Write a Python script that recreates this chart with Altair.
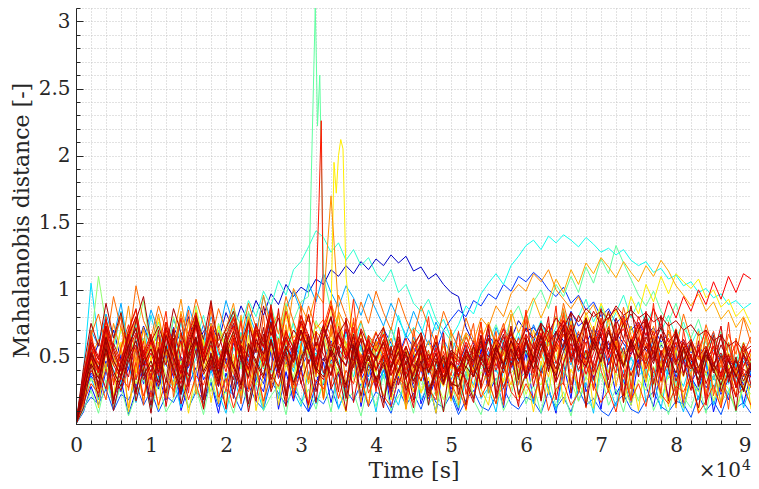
import altair as alt
import pandas as pd

# time grid [s]
T = list(range(0, 91000, 1000))

# Mahalanobis distance series, in hundredths, one value per T step
A00 = [0,28,45,60,52,70,48,62,55,73,58,
       66,50,72,61,80,57,69,75,62,83,
       70,88,76,92,81,97,89,104,95,102,
       98,108,104,115,110,118,112,121,115,123,
       118,126,120,125,114,117,108,112,104,98,
       95,72,60,52,66,58,71,63,77,69,
       72,64,58,69,62,55,67,60,71,64,
       56,68,60,52,63,55,48,59,51,45,
       54,47,40,50,43,37,48,41,35,42]
A01 = [0,20,36,28,47,33,24,42,55,30,40,
       26,50,35,22,45,57,33,43,28,49,
       38,24,52,40,30,55,34,46,27,42,
       53,36,29,48,39,25,51,33,44,28,
       40,22,35,47,27,41,19,34,45,26,
       37,50,43,58,47,63,52,68,57,72,
       61,76,65,80,69,84,73,78,66,71,
       59,64,52,57,45,50,38,43,56,35,
       48,31,41,27,36,22,33,44,29,40]
A02 = [0,22,38,30,45,36,52,41,33,48,39,
       55,44,36,50,42,58,47,38,53,45,
       60,49,41,56,47,63,52,44,59,50,
       66,55,47,62,53,69,58,49,64,55,
       71,60,51,66,57,48,62,54,70,78,
       85,80,92,88,97,93,104,99,110,106,
       113,108,100,95,102,90,96,85,91,80,
       86,75,81,70,76,66,72,61,67,57,
       63,53,59,49,55,46,52,43,49,40]
A03 = [0,12,20,15,26,10,22,18,30,14,25,
       9,21,16,28,12,24,19,31,13,26,
       22,10,29,17,11,32,23,14,27,18,
       9,20,15,27,12,25,17,30,13,24,
       19,8,26,14,23,11,28,16,12,22,
       7,18,25,13,10,21,27,15,11,20,
       17,8,24,12,20,9,26,14,19,10,
       6,16,22,11,8,18,24,13,9,17,
       15,5,21,10,17,7,23,12,16,8]
A04 = [0,30,52,41,66,48,35,58,71,44,60,
       37,53,69,46,31,57,74,50,39,62,
       45,68,55,33,59,77,49,64,42,70,
       56,38,61,80,52,43,67,58,35,63,
       48,72,54,40,65,51,37,59,46,33,
       44,58,41,66,53,39,62,70,47,57,
       74,61,50,68,55,79,63,48,71,58,
       45,66,52,73,60,43,64,49,37,58,
       46,62,40,55,68,47,59,36,51,44]
A05 = [0,35,70,58,82,64,90,55,76,61,85,
       69,52,78,63,88,71,57,80,66,92,
       74,60,83,68,95,77,62,86,99,84,
       105,91,112,98,87,103,94,81,97,85,
       73,90,78,66,84,71,59,76,63,52,
       68,56,45,62,50,72,58,47,65,53,
       41,60,48,69,55,44,63,51,38,57,
       46,64,52,40,59,47,35,54,43,31,
       50,39,56,44,33,52,41,30,47,37]
A06 = [0,40,105,62,78,55,84,60,72,50,81,
       58,67,49,76,54,63,45,71,52,60,
       43,68,50,57,41,65,48,55,39,62,
       46,53,37,60,44,51,35,58,42,49,
       34,56,40,47,32,54,38,45,30,52,
       36,43,29,50,34,41,27,48,33,39,
       36,56,41,47,34,54,39,45,32,52,
       38,43,31,50,36,41,29,48,34,39,
       28,46,32,37,26,44,30,35,25,42]
A07 = [0,25,44,36,58,40,29,51,63,38,47,
       33,55,42,61,35,49,66,40,53,31,
       57,45,70,38,52,64,43,59,75,48,
       62,50,71,56,44,67,53,76,60,49,
       68,57,81,63,72,66,85,70,78,64,
       74,88,82,97,105,112,104,118,125,133,
       137,130,140,135,141,137,132,139,134,128,
       131,126,130,122,118,121,113,116,108,111,
       103,106,98,101,94,97,89,92,86,90]
A08 = [0,30,55,44,68,52,39,61,74,47,58,
       42,66,53,78,48,62,81,57,70,64,
       86,73,92,80,99,88,107,96,115,121,
       132,144,139,128,135,122,130,118,124,112,
       106,115,98,104,90,84,93,78,70,62,
       55,66,50,61,47,58,44,55,69,52,
       63,77,60,72,85,68,80,93,76,88,
       71,83,96,79,91,74,86,69,81,64,
       76,59,71,54,66,49,61,45,57,42]
A09 = [0,26,48,37,60,45,71,52,40,63,49,
       76,58,44,67,53,81,62,47,70,56,
       84,65,50,73,59,88,68,54,77,91,
       95,285,110,85,72,60,68,55,47,61,
       50,42,57,46,38,53,44,36,49,40,
       33,47,58,45,62,74,60,79,88,72,
       91,100,86,104,95,110,98,117,105,123,
       112,133,120,108,96,88,99,84,76,90,
       71,64,78,60,55,69,52,47,61,44]
A10 = [0,20,62,110,74,58,83,49,67,92,55,
       71,44,80,63,52,88,60,46,75,57,
       69,41,84,58,47,73,62,90,55,68,
       49,77,64,42,70,53,61,38,66,51,
       45,72,57,36,63,48,55,34,60,43,
       50,31,58,41,47,29,55,38,44,62,
       52,36,70,48,41,65,53,33,59,46,
       39,64,51,30,57,44,36,61,48,27,
       55,42,33,58,45,25,52,39,31,48]
A11 = [0,18,34,27,45,22,38,51,30,43,25,
       56,36,28,47,33,59,40,24,50,31,
       44,62,37,29,53,41,26,48,35,57,
       30,45,23,51,38,60,33,27,46,39,
       21,44,52,29,36,24,41,33,18,37,
       28,45,20,39,31,15,34,26,42,22,
       37,29,46,24,40,32,17,35,27,48,
       23,38,30,14,33,25,43,19,36,28,
       12,31,24,39,17,34,26,11,29,22]
A12 = [0,24,46,35,60,43,72,51,38,64,47,
       79,55,41,68,50,85,59,44,73,54,
       66,48,77,58,42,70,53,81,60,67,
       52,74,70,80,200,110,60,52,45,58,
       41,50,36,55,43,32,49,38,28,45,
       35,52,40,58,46,63,51,70,57,64,
       49,72,58,80,65,74,60,83,69,90,
       76,85,72,95,82,104,91,110,97,112,
       106,101,108,94,100,87,93,80,86,74]
A13 = [0,28,50,39,63,31,55,70,42,58,36,
       65,47,29,61,52,74,40,57,33,68,
       45,60,38,71,49,27,64,53,42,76,
       58,35,67,48,81,56,44,69,37,62,
       50,30,59,45,24,53,39,66,32,48,
       57,41,27,51,36,64,46,29,55,40,
       70,52,35,61,47,77,58,43,68,50,
       38,63,45,73,54,31,60,42,69,48,
       35,57,40,66,46,28,53,37,61,43]
A14 = [0,31,57,44,68,50,36,61,78,47,59,
       41,70,53,84,45,63,49,75,58,42,
       66,52,80,60,47,72,55,88,64,73,
       58,69,62,90,74,60,52,67,48,61,
       44,57,39,53,35,49,62,45,58,41,
       54,67,50,63,76,59,72,85,68,81,
       94,79,92,108,98,115,104,120,112,124,
       117,109,121,113,106,118,110,122,114,103,
       96,88,97,84,91,78,85,72,80,68]
A15 = [0,26,49,63,41,75,54,88,46,70,59,
       82,51,66,93,57,74,48,85,62,71,
       90,55,78,64,96,70,83,59,101,88,
       76,98,90,170,84,72,63,77,56,69,
       50,64,44,58,39,53,47,35,51,42,
       56,68,61,79,72,88,80,97,104,99,
       112,106,115,100,93,86,95,81,89,74,
       82,68,77,63,71,58,66,52,61,47,
       55,43,50,38,46,34,41,30,37,27]
A16 = [0,38,66,82,58,95,71,60,103,77,64,
       88,70,57,82,66,93,74,61,86,69,
       79,63,90,72,58,84,67,95,76,62,
       88,71,78,65,96,80,68,91,75,99,
       83,70,94,78,65,88,73,60,84,69,
       56,79,63,50,74,59,46,68,54,83,
       62,49,75,58,90,67,53,80,64,48,
       73,57,87,66,51,78,61,45,70,55,
       82,63,48,74,57,42,67,52,79,60]
A17 = [0,34,60,48,77,55,42,69,85,52,65,
       47,74,59,38,67,81,53,70,44,62,
       78,56,41,73,63,86,50,68,57,80,
       64,47,72,92,60,53,76,45,66,58,
       71,49,63,40,57,68,46,61,38,54,
       47,65,52,70,44,59,75,50,64,41,
       57,72,48,66,81,55,69,45,62,78,
       53,68,43,60,74,51,65,40,57,71,
       48,63,39,55,69,45,60,36,52,65]
A18 = [0,16,30,23,41,19,35,27,46,21,38,
       14,32,25,44,18,36,29,48,20,34,
       12,31,24,42,17,37,28,50,22,39,
       15,33,26,45,19,40,30,52,23,36,
       21,13,34,29,16,43,26,18,47,31,
       27,11,40,20,32,15,45,24,17,30,
       19,38,10,26,31,14,23,44,29,16,
       25,9,37,18,30,13,42,22,15,28,
       24,36,8,17,29,12,41,21,27,14]
A19 = [0,29,52,40,64,47,35,58,72,44,56,
       38,67,50,79,43,61,47,73,55,39,
       63,49,76,57,44,69,52,84,61,70,
       55,95,70,58,66,50,62,45,57,41,
       53,37,49,64,46,59,42,55,38,51,
       35,48,62,44,57,40,53,68,49,63,
       46,59,73,54,67,50,62,77,58,71,
       53,66,80,61,74,56,69,52,64,47,
       60,43,55,70,51,64,47,60,43,56]
A20 = [0,33,58,45,71,52,39,64,80,48,61,
       43,70,55,37,62,76,50,67,41,59,
       73,53,40,68,57,82,46,63,51,75,
       60,44,69,88,56,48,72,42,62,54,
       67,45,58,37,53,64,42,57,35,50,
       44,61,49,66,41,56,71,47,60,38,
       53,68,45,62,77,51,65,42,58,74,
       49,64,71,58,80,66,86,73,92,79,
       95,84,100,89,106,93,110,98,112,108]
A21 = [0,27,49,38,61,44,33,55,68,41,53,
       36,64,47,30,58,72,45,59,37,52,
       66,48,34,61,50,74,42,57,46,69,
       54,39,63,79,51,43,65,38,56,48,
       60,41,53,33,48,58,38,52,31,45,
       39,56,44,60,36,51,65,42,55,34,
       48,62,40,57,70,46,60,37,53,67,
       44,58,35,52,64,41,55,32,48,61,
       38,52,29,46,58,35,49,27,43,55]
A22 = [0,37,63,50,78,57,45,70,86,53,67,
       48,76,60,41,68,83,55,72,46,65,
       80,58,44,74,61,89,50,69,56,81,
       66,48,73,60,54,71,47,64,52,68,
       55,40,62,49,36,57,44,66,39,53,
       46,59,35,52,64,43,57,70,48,62,
       38,55,68,45,60,74,51,66,42,58,
       72,49,63,54,76,61,47,67,55,44,
       63,50,38,57,45,33,51,40,60,47]
A23 = [0,31,54,42,26,60,47,35,66,51,39,
       57,44,71,49,36,62,53,40,68,46,
       33,59,50,75,43,63,38,56,48,70,
       45,61,52,37,66,55,42,71,58,47,
       63,50,38,57,44,32,52,40,29,47,
       36,54,42,31,49,58,45,62,51,67,
       56,72,61,68,77,65,81,70,84,74,
       79,86,75,82,71,78,66,73,61,68,
       56,63,50,58,45,53,40,48,36,44]
A24 = [0,22,40,31,53,36,25,47,59,33,44,
       28,56,39,23,50,63,37,48,30,55,
       42,26,58,45,34,61,38,52,29,47,
       60,40,33,54,43,27,57,36,49,31,
       44,24,39,52,30,45,21,37,49,28,
       41,33,19,46,35,50,27,42,57,34,
       48,38,53,31,46,60,40,55,33,49,
       62,43,57,36,51,45,59,38,53,32,
       47,41,55,30,44,38,52,27,41,35]
A25 = [0,35,61,48,73,55,40,66,80,50,63,
       45,72,57,38,64,78,52,69,43,61,
       75,54,41,70,58,83,47,65,53,77,
       62,46,71,56,68,49,60,44,55,40,
       51,36,47,58,42,53,38,49,35,45,
       40,52,46,58,50,63,55,67,59,71,
       64,75,68,79,72,83,76,86,80,84,
       78,88,81,85,79,83,76,80,73,77,
       70,74,66,70,62,66,58,62,54,58]
A26 = [0,42,75,58,90,64,83,52,77,95,61,
       73,56,86,68,49,80,63,92,57,71,
       84,60,76,53,88,66,79,55,70,62,
       81,58,74,50,67,77,54,69,47,63,
       72,51,65,44,59,68,48,61,41,55,
       50,42,58,47,63,52,38,56,45,61,
       49,66,54,41,59,71,55,48,64,52,
       68,57,44,62,50,65,53,40,58,46,
       61,49,37,55,43,59,47,35,52,40]
A27 = [0,30,53,41,65,47,36,59,71,44,56,
       39,66,50,33,60,74,46,62,38,55,
       69,49,35,63,52,76,43,58,46,70,
       55,40,64,80,51,44,67,39,57,49,
       61,42,54,34,49,59,39,53,32,46,
       41,55,47,62,38,53,67,44,58,36,
       50,65,43,60,73,48,63,79,55,69,
       84,62,75,57,70,81,59,72,52,66,
       47,60,42,55,38,51,35,47,32,44]
A28 = [0,25,45,34,56,39,28,50,62,36,47,
       31,58,41,26,53,65,39,51,32,57,
       44,29,60,47,36,63,40,54,31,49,
       62,42,35,56,45,29,59,38,51,33,
       46,26,41,54,32,47,23,39,51,30,
       28,43,35,50,39,57,44,62,48,55,
       41,60,47,36,54,67,50,43,61,46,
       70,55,42,63,49,58,45,66,51,38,
       57,44,33,52,40,29,47,36,25,42]
B01 = [0,15,48,12,55,20,61,9,42,18,50,
       11,58,24,44,8,39,63,16,47,13,
       52,21,66,10,37,57,14,45,27,60,
       12,49,19,71,25,9,54,33,15,46,
       62,18,40,11,56,23,35,8,50,17,
       43,10,58,26,14,51,31,64,20,38,
       9,47,22,60,15,41,28,55,12,49,
       24,63,16,39,10,53,29,45,13,57,
       19,36,9,51,25,14,44,20,58,11]
B02 = [0,10,25,8,33,14,28,6,22,35,11,
       30,9,19,38,12,27,7,34,16,24,
       8,31,13,40,10,21,29,7,36,15,
       26,11,33,9,42,17,24,6,30,13,
       37,10,21,28,8,35,14,25,9,32,
       12,39,18,7,27,34,10,22,41,15,
       29,8,36,13,24,6,31,19,11,38,
       14,26,9,33,17,40,10,23,7,35,
       20,12,30,8,37,16,25,9,28,13]
B03 = [0,14,35,18,42,11,30,47,16,38,9,
       44,21,33,12,51,26,15,40,23,8,
       36,17,48,28,10,43,19,55,24,13,
       39,15,31,46,11,27,50,20,34,9,
       42,25,14,37,53,18,29,10,45,22,
       12,33,48,19,27,9,41,56,23,36,
       15,44,26,10,38,52,17,31,8,46,
       29,13,40,21,57,16,34,11,43,24,
       9,37,18,49,14,32,22,45,12,30]
B04 = [0,22,70,35,18,62,80,25,57,14,66,
       41,76,20,53,85,30,12,68,46,24,
       72,15,59,38,81,27,64,17,50,88,
       33,61,19,74,44,22,79,36,13,58,
       67,28,48,16,71,39,55,21,63,31,
       18,54,75,26,42,69,14,60,35,78,
       47,20,65,37,83,29,56,12,73,40,
       24,61,43,17,70,34,58,23,76,45,
       16,52,30,68,21,49,11,64,38,27]
B05 = [0,18,59,26,73,15,48,67,22,55,33,
       70,13,45,62,28,81,19,52,36,11,
       64,29,77,17,50,40,86,21,58,31,
       14,69,38,55,24,79,16,47,63,27,
       51,20,72,34,12,60,43,25,68,19,
       56,30,16,49,74,22,61,37,13,66,
       28,53,80,18,45,65,26,71,39,57,
       33,76,21,59,42,84,30,54,17,69,
       46,25,62,14,51,73,35,20,58,41]
B06 = [0,12,44,20,58,10,36,52,17,41,8,
       49,23,64,15,33,55,11,46,28,60,
       19,51,9,38,67,24,43,13,57,30,
       48,16,62,26,39,10,54,21,45,34,
       12,58,29,47,18,66,25,40,9,53,
       36,14,59,27,71,19,44,56,22,38,
       61,17,49,32,74,23,58,13,46,68,
       27,52,16,63,35,78,20,55,41,15,
       57,31,12,48,66,24,39,10,53,29]
B07 = [0,25,66,38,80,29,57,74,33,62,20,
       55,84,36,68,23,75,47,90,31,59,
       41,77,26,64,52,87,34,70,19,58,
       82,37,61,28,73,50,93,35,66,24,
       57,39,71,18,62,45,80,27,54,36,
       69,22,48,76,31,58,17,64,42,85,
       34,67,50,88,29,72,44,61,25,79,
       53,38,81,26,65,47,90,32,59,21,
       70,42,57,19,63,35,76,28,52,44]
B08 = [0,20,52,28,63,17,45,59,24,49,14,
       56,31,70,22,47,64,18,53,37,68,
       26,58,15,44,72,33,50,21,61,39,
       67,24,49,36,58,19,45,63,28,51,
       16,43,60,25,38,55,14,47,30,62,
       22,51,35,66,28,59,41,73,33,64,
       48,75,39,69,57,83,46,77,60,86,
       52,79,63,88,55,74,49,81,42,70,
       36,61,28,55,40,67,31,50,24,46]
B09 = [0,17,50,24,68,31,57,12,46,72,28,
       61,19,53,35,78,22,44,66,15,58,
       37,81,26,49,13,63,40,74,21,55,
       30,69,18,52,84,27,47,16,60,39,
       73,25,56,11,42,65,20,48,34,70,
       14,51,38,76,23,59,45,82,29,62,
       41,18,67,33,86,50,24,71,37,57,
       79,28,54,19,64,43,73,31,48,12,
       58,36,69,22,45,15,61,39,26,53]
B10 = [0,9,28,14,40,19,33,7,25,45,12,
       36,18,50,10,29,42,15,31,8,38,
       21,47,13,34,24,55,11,39,17,43,
       9,30,46,16,37,22,58,13,41,27,
       48,12,35,20,52,15,32,8,44,25,
       10,39,18,57,23,34,12,47,29,53,
       16,42,27,8,45,19,60,24,36,11,
       50,22,33,14,48,28,13,41,20,55,
       12,35,25,46,9,31,18,43,15,38]

# extra samples in the spike region (time [s], value in hundredths)
EXTRA_T = {"A09": [31900, 32200, 32500],
           "A12": [34400, 34700, 35300, 35600],
           "A19": [32400, 32700]}
EXTRA_V = {"A09": [310, 222, 260],
           "A12": [195, 172, 212, 205],
           "A19": [165, 226]}

# drawing order (blue first, dark red last)
SERIES = [("A00", A00), ("B10", B10), ("A01", A01), ("A02", A02), ("A03", A03),
          ("A04", A04), ("A05", A05), ("B03", B03), ("A06", A06), ("A07", A07),
          ("A08", A08), ("A09", A09), ("B02", B02), ("A10", A10), ("A11", A11),
          ("A12", A12), ("B01", B01), ("A13", A13), ("A14", A14), ("B09", B09),
          ("A15", A15), ("A16", A16), ("B04", B04), ("A17", A17), ("A18", A18),
          ("B07", B07), ("A19", A19), ("A20", A20), ("A21", A21), ("A22", A22),
          ("B05", B05), ("A23", A23), ("A24", A24), ("A25", A25), ("B06", B06),
          ("A26", A26), ("B08", B08), ("A27", A27), ("A28", A28)]

COLORS = ["#0000c8", "#0008ff", "#0018ff", "#0030ff", "#0050ff",
          "#0080ff", "#00a8ff", "#00c8ff", "#00e0ff", "#10fff0",
          "#30ffd0", "#60ffa0", "#70ff90", "#90ff70", "#c0ff40",
          "#ffee00", "#ffd800", "#ffc400", "#ffa800", "#ff9800",
          "#ff8c00", "#ff6a00", "#ff5000", "#ff4000", "#ff3000",
          "#ff2800", "#ff1800", "#ff0000", "#f00000", "#e40800",
          "#d80000", "#d00000", "#c80000", "#bc0000", "#b40000",
          "#aa0000", "#a00000", "#960000", "#880000"]

X_MINOR = list(range(0, 92000, 2000))
X_MAJOR = list(range(0, 100000, 10000))
Y_MINOR = [round(0.1 * i, 1) for i in range(0, 32)]
Y_MAJOR = [0.5, 1, 1.5, 2, 2.5, 3]

rows = []
for name, vals in SERIES:
    assert len(vals) == len(T), (name, len(vals))
    for t, v in zip(T, vals):
        rows.append({"s": name, "t": t, "v": v / 100})
    for t, v in zip(EXTRA_T.get(name, []), EXTRA_V.get(name, [])):
        rows.append({"s": name, "t": t, "v": v / 100})
df = pd.DataFrame(rows)

FONT = "DejaVu Serif"
INK = "#262626"
GRID = "#c4c4c4"
W, H = 675, 416

xs = alt.Scale(domain=[0, 90000], nice=False, zero=False)
ys = alt.Scale(domain=[0, 3.1], nice=False, zero=False)
names = [n for n, _ in SERIES]

lines = alt.Chart(df).mark_line(strokeWidth=1, clip=True).encode(
    x=alt.X("t:Q", scale=xs, axis=alt.Axis(orient="bottom", values=X_MINOR, grid=True,
            gridColor=GRID, gridDash=[1, 2], gridWidth=1, ticks=False, labels=False,
            domain=False, title=None)),
    y=alt.Y("v:Q", scale=ys, axis=alt.Axis(orient="left", values=Y_MINOR, grid=True,
            gridColor=GRID, gridDash=[1, 2], gridWidth=1, ticks=False, labels=False,
            domain=False, title=None)),
    color=alt.Color("s:N", scale=alt.Scale(domain=names, range=COLORS), legend=None),
    detail="s:N",
)

minor = alt.Chart(df).mark_point(opacity=0, size=0).encode(
    x=alt.X("t:Q", scale=xs, axis=alt.Axis(orient="bottom", values=X_MINOR, grid=False,
            ticks=True, tickSize=4, tickColor=INK, tickWidth=1, offset=-4, labels=False,
            domain=False, title=None, zindex=1)),
    y=alt.Y("v:Q", scale=ys, axis=alt.Axis(orient="left", values=Y_MINOR, grid=False,
            ticks=True, tickSize=4, tickColor=INK, tickWidth=1, offset=-4, labels=False,
            domain=False, title=None, zindex=1)),
)

major = alt.Chart(df).mark_point(opacity=0, size=0).encode(
    x=alt.X("t:Q", scale=xs, axis=alt.Axis(orient="bottom", values=X_MAJOR, grid=False,
            ticks=True, tickSize=7, tickColor=INK, tickWidth=1, offset=-7,
            labels=True, labelExpr="datum.value / 10000", labelFont=FONT,
            labelFontSize=20, labelColor=INK, labelPadding=11, labelFlush=False,
            labelAlign={"condition": {"test": "datum.value >= 90000", "value": "right"},
                        "value": "center"},
            labelOverlap=False, domain=False, title=None, zindex=1)),
    y=alt.Y("v:Q", scale=ys, axis=alt.Axis(orient="left", values=Y_MAJOR, grid=False,
            ticks=True, tickSize=7, tickColor=INK, tickWidth=1, offset=-7,
            labels=True, labelExpr="'' + datum.value", labelFont=FONT,
            labelFontSize=20, labelColor=INK, labelPadding=6, labelFlush=False,
            labelOverlap=False, domain=False, title=None, zindex=1)),
)

frame = alt.Chart(df).mark_point(opacity=0, size=0).encode(
    x=alt.X("t:Q", scale=xs, axis=alt.Axis(orient="bottom", grid=False, ticks=False,
            labels=False, domain=True, domainColor=INK, domainWidth=1,
            title="Time [s]", titleFont=FONT, titleFontSize=22, titleFontWeight="normal",
            titleColor=INK, titleBaseline="alphabetic", titleY=53, zindex=1)),
    y=alt.Y("v:Q", scale=ys, axis=alt.Axis(orient="left", grid=False, ticks=False,
            labels=False, domain=True, domainColor=INK, domainWidth=1,
            title="Mahalanobis distance [-]", titleFont=FONT, titleFontSize=22,
            titleFontWeight="normal", titleColor=INK, titleBaseline="alphabetic",
            titleX=-48, titleY=212, zindex=1)),
)

mult = alt.Chart(pd.DataFrame({"txt": ["×10"]})).mark_text(
    font=FONT, fontSize=20, color=INK, align="right", baseline="alphabetic"
).encode(x=alt.value(W - 10), y=alt.value(H + 53), text="txt:N")

expo = alt.Chart(pd.DataFrame({"txt": ["4"]})).mark_text(
    font=FONT, fontSize=14, color=INK, align="left", baseline="alphabetic"
).encode(x=alt.value(W - 9), y=alt.value(H + 46), text="txt:N")

chart = alt.layer(lines, minor, major, frame, mult, expo).resolve_axis(
    x="independent", y="independent"
).properties(
    width=W, height=H,
    padding={"left": 68, "top": 0, "right": 0, "bottom": 57},
    autosize=alt.AutoSizeParams(type="none"),
).configure_view(stroke=None)

chart.save("out.html", embed_options={"renderer": "svg", "actions": False})
